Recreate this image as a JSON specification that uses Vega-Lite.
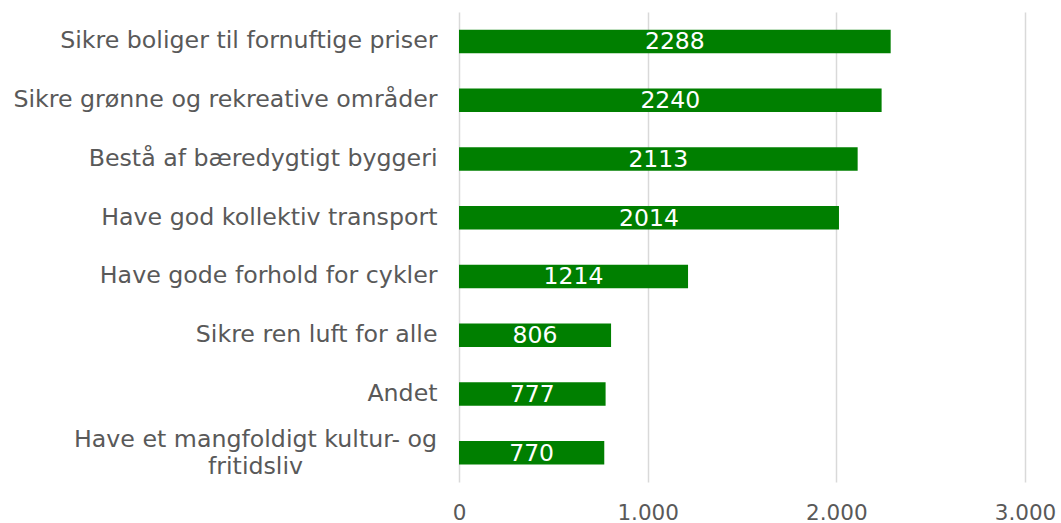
{
  "$schema": "https://vega.github.io/schema/vega-lite/v6.json",
  "autosize": {"type": "none"},
  "padding": {"left": 459, "top": 12, "right": 36, "bottom": 41},
  "width": 566,
  "height": 470,
  "background": "white",
  "config": {
    "view": {"stroke": null},
    "font": "DejaVu Sans"
  },
  "data": {
    "values": [
      {"kategori": "Sikre boliger til fornuftige priser", "antal": 2288},
      {"kategori": "Sikre grønne og rekreative områder", "antal": 2240},
      {"kategori": "Bestå af bæredygtigt byggeri", "antal": 2113},
      {"kategori": "Have god kollektiv transport", "antal": 2014},
      {"kategori": "Have gode forhold for cykler", "antal": 1214},
      {"kategori": "Sikre ren luft for alle", "antal": 806},
      {"kategori": "Andet", "antal": 777},
      {"kategori": "Have et mangfoldigt kultur- og fritidsliv", "antal": 770}
    ]
  },
  "encoding": {
    "y": {
      "field": "kategori",
      "type": "nominal",
      "sort": null,
      "title": null,
      "scale": {"paddingInner": 0.6, "paddingOuter": 0.3},
      "axis": {
        "domain": false,
        "ticks": false,
        "labelPadding": {"condition": {"test": "datum.value == 'Have et mangfoldigt kultur- og fritidsliv'", "value": 204}, "value": 22},
        "labelAlign": {"condition": {"test": "datum.value == 'Have et mangfoldigt kultur- og fritidsliv'", "value": "center"}, "value": "right"},
        "labelFontSize": 23.7,
        "labelColor": "#595959",
        "labelLimit": 0,
        "labelLineHeight": 27,
        "labelOffset": {"condition": {"test": "datum.value == 'Have et mangfoldigt kultur- og fritidsliv'", "value": -13}, "value": 0},
        "labelExpr": "datum.value == 'Have et mangfoldigt kultur- og fritidsliv' ? ['Have et mangfoldigt kultur- og', 'fritidsliv'] : datum.value"
      }
    }
  },
  "resolve": {"scale": {"x": "independent"}},
  "layer": [
    {
      "mark": {"type": "bar", "color": "#007f00"},
      "encoding": {
        "x": {
          "field": "antal",
          "type": "quantitative",
          "title": null,
          "scale": {"domain": [0, 3000], "nice": false},
          "axis": {
            "values": [0, 1000, 2000, 3000],
            "domain": false,
            "ticks": false,
            "grid": true,
            "gridColor": "#d9d9d9",
            "gridWidth": 1.5,
            "labelFlush": false,
            "labelPadding": 20,
            "labelFontSize": 21.5,
            "labelColor": "#595959",
            "labelExpr": "replace(format(datum.value, ','), ',', '.')"
          }
        }
      }
    },
    {
      "mark": {"type": "text", "color": "white", "fontSize": 23.5, "baseline": "middle", "align": "center", "dy": 1},
      "encoding": {
        "x": {"field": "antal", "type": "quantitative", "scale": {"domain": [0, 6000], "nice": false}, "axis": null},
        "text": {"field": "antal", "type": "quantitative", "format": "d"}
      }
    }
  ]
}
